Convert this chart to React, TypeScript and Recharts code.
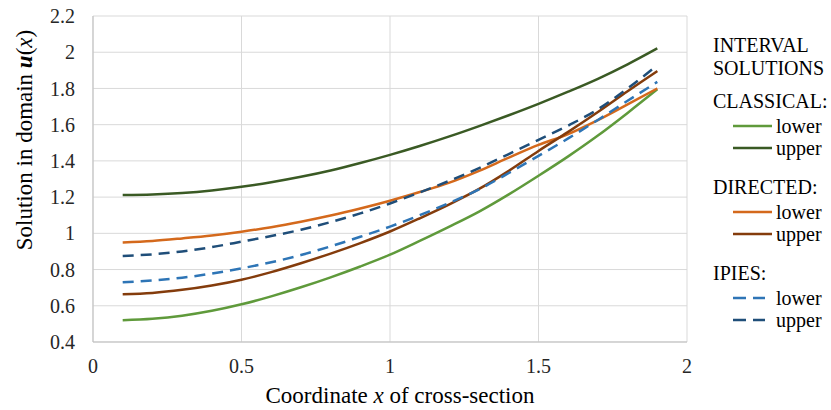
import React from "react";
import { LineChart, Line, XAxis, YAxis, CartesianGrid } from "recharts";

// coordinate x of cross-section
const xs = [0.1, 0.2, 0.3, 0.4, 0.5, 0.6, 0.7, 0.8, 0.9, 1.0, 1.1, 1.2, 1.3, 1.4, 1.5, 1.6, 1.7, 1.8, 1.9];

// values
const classicalLower = [0.52, 0.528, 0.545, 0.572, 0.608, 0.652, 0.702, 0.757, 0.817, 0.882, 0.958, 1.037, 1.12, 1.215, 1.318, 1.425, 1.54, 1.665, 1.795];
const classicalUpper = [1.212, 1.215, 1.223, 1.237, 1.257, 1.282, 1.312, 1.347, 1.388, 1.433, 1.482, 1.535, 1.592, 1.652, 1.715, 1.782, 1.853, 1.933, 2.021];
const directedLower = [0.95, 0.958, 0.972, 0.988, 1.009, 1.034, 1.064, 1.098, 1.137, 1.18, 1.228, 1.28, 1.345, 1.418, 1.488, 1.548, 1.625, 1.712, 1.8];
const directedUpper = [0.663, 0.671, 0.688, 0.712, 0.744, 0.786, 0.835, 0.888, 0.946, 1.01, 1.083, 1.16, 1.245, 1.345, 1.455, 1.56, 1.67, 1.785, 1.896];
const ipiesLower = [0.73, 0.74, 0.755, 0.778, 0.807, 0.84, 0.88, 0.928, 0.981, 1.037, 1.1, 1.168, 1.243, 1.333, 1.428, 1.524, 1.626, 1.732, 1.836];
const ipiesUpper = [0.875, 0.884, 0.9, 0.924, 0.954, 0.985, 1.02, 1.062, 1.11, 1.165, 1.226, 1.29, 1.36, 1.438, 1.516, 1.595, 1.685, 1.8, 1.928];

const xTicks = [0, 0.5, 1, 1.5, 2];
const yTicks = [0.4, 0.6, 0.8, 1, 1.2, 1.4, 1.6, 1.8, 2, 2.2];

const groups = [
  {
    title: "CLASSICAL:",
    items: [
      { key: "classicalLower", label: "lower", color: "#5f9a3b", dash: undefined },
      { key: "classicalUpper", label: "upper", color: "#3a5a24", dash: undefined },
    ],
  },
  {
    title: "DIRECTED:",
    items: [
      { key: "directedLower", label: "lower", color: "#d4691c", dash: undefined },
      { key: "directedUpper", label: "upper", color: "#843c0c", dash: undefined },
    ],
  },
  {
    title: "IPIES:",
    items: [
      { key: "ipiesLower", label: "lower", color: "#2e75b6", dash: "11 7" },
      { key: "ipiesUpper", label: "upper", color: "#1f4e79", dash: "11 7" },
    ],
  },
];

const data = xs.map((x, i) => ({
  x,
  classicalLower: classicalLower[i],
  classicalUpper: classicalUpper[i],
  directedLower: directedLower[i],
  directedUpper: directedUpper[i],
  ipiesLower: ipiesLower[i],
  ipiesUpper: ipiesUpper[i],
}));

const font = "Liberation Serif, Times New Roman, Times, DejaVu Serif, serif";
const tickStyle = { fontFamily: font, fontSize: 20, fill: "#262626" };

function XLabel() {
  return (
    <text x={400} y={403} textAnchor="middle" style={{ fontFamily: font, fontSize: 23 }} fill="#000">
      Coordinate <tspan fontStyle="italic">x</tspan> of cross-section
    </text>
  );
}

function YLabel() {
  return (
    <text
      x={24}
      y={140}
      transform="rotate(-90, 24, 140)"
      textAnchor="middle"
      dominantBaseline="central"
      style={{ fontFamily: font, fontSize: 23 }}
      fill="#000"
    >
      Solution in domain <tspan fontWeight="bold" fontStyle="italic">u</tspan>(<tspan fontStyle="italic">x</tspan>)
    </text>
  );
}

function LegendBox() {
  const line = { height: 23, lineHeight: "23px", whiteSpace: "nowrap" as const };
  return (
    <div style={{ position: "absolute", left: 713, top: 34, fontFamily: font, fontSize: 20, color: "#000" }}>
      <div style={line}>INTERVAL</div>
      <div style={line}>SOLUTIONS</div>
      {groups.map((g) => (
        <div key={g.title} style={{ marginTop: g.title === "CLASSICAL:" ? 9.5 : 16.5 }}>
          <div style={line}>{g.title}</div>
          <div style={{ marginTop: 2.5 }}>
            {g.items.map((it) => (
              <div key={it.key} style={{ height: 22, lineHeight: "22px", display: "flex", alignItems: "center" }}>
                <svg width={63} height={22} style={{ display: "block" }}>
                  <line
                    x1={20}
                    x2={it.dash ? 52 : 59}
                    y1={11}
                    y2={11}
                    stroke={it.color}
                    strokeWidth={2.5}
                    strokeDasharray={it.dash ? "13 7" : undefined}
                  />
                </svg>
                <span>{it.label}</span>
              </div>
            ))}
          </div>
        </div>
      ))}
    </div>
  );
}

export default function App() {
  return (
    <div style={{ position: "absolute", left: 0, top: 0, width: 831, height: 410, background: "#fff", fontFamily: font }}>
      <LineChart width={831} height={410} data={data} margin={{ top: 16, right: 144, left: 0, bottom: 0 }}>
        <CartesianGrid stroke="#d9d9d9" strokeWidth={1} />
        <XAxis
          dataKey="x"
          type="number"
          domain={[0, 2]}
          ticks={xTicks}
          height={68}
          tickSize={0}
          tickMargin={17}
          tick={tickStyle}
          axisLine={{ stroke: "#bfbfbf" }}
          label={{ content: () => <XLabel /> }}
        />
        <YAxis
          type="number"
          domain={[0.4, 2.2]}
          ticks={yTicks}
          width={93}
          tickSize={0}
          tickMargin={18}
          tick={tickStyle}
          axisLine={{ stroke: "#bfbfbf" }}
          label={{ content: () => <YLabel /> }}
        />
        {groups.flatMap((g) =>
          g.items.map((it) => (
            <Line
              key={it.key}
              dataKey={it.key}
              type="monotone"
              stroke={it.color}
              strokeWidth={2.5}
              strokeDasharray={it.dash}
              dot={false}
              activeDot={false}
              isAnimationActive={false}
            />
          ))
        )}
      </LineChart>
      <LegendBox />
    </div>
  );
}
